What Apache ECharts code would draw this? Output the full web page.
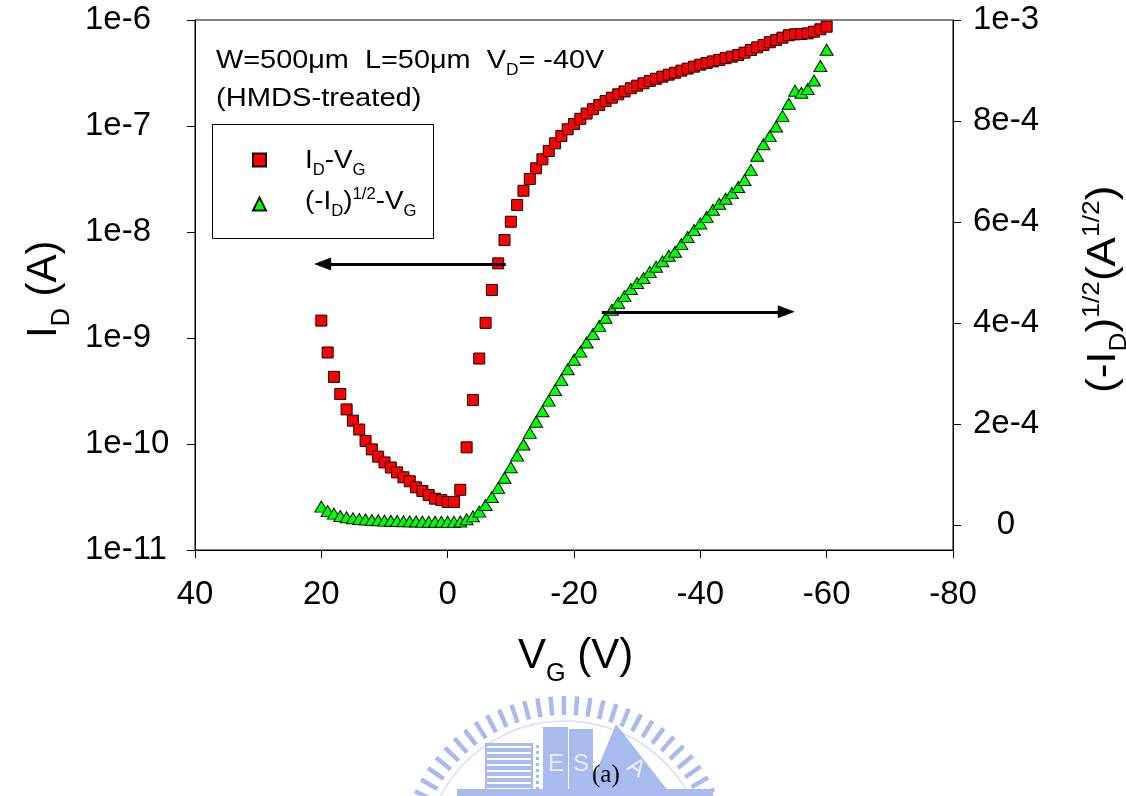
<!DOCTYPE html>
<html>
<head>
<meta charset="utf-8">
<script src="https://cdn.jsdelivr.net/npm/echarts@6/dist/echarts.min.js"></script>
<style>
  html, body { margin: 0; padding: 0; background: #fff; }
  #chart { width: 1126px; height: 796px; }
</style>
</head>
<body>
<div id="chart"></div>
<script>
// Gate voltage sweep (V)
const vgValues = [
  20, 19, 18, 17, 16, 15, 14, 13, 12, 11, 10, 9, 8, 7, 6, 5, 4, 3, 2, 1, 0,
  -1, -2, -3, -4, -5, -6, -7, -8, -9, -10, -11, -12, -13, -14, -15, -16, -17, -18, -19, -20,
  -21, -22, -23, -24, -25, -26, -27, -28, -29, -30, -31, -32, -33, -34, -35, -36, -37, -38, -39, -40,
  -41, -42, -43, -44, -45, -46, -47, -48, -49, -50, -51, -52, -53, -54, -55, -56, -57, -58, -59, -60
];

// Drain current I_D (A), log scale
const drainCurrent = [
  1.46e-9, 7.3e-10, 4.3e-10, 2.96e-10, 2.12e-10, 1.66e-10, 1.37e-10, 1.07e-10, 8.9e-11, 7.6e-11, 6.7e-11,
  6.0e-11, 5.4e-11, 4.85e-11, 4.45e-11, 3.9e-11, 3.6e-11, 3.3e-11, 3.05e-11, 2.96e-11, 2.84e-11,
  2.84e-11, 3.7e-11, 9.3e-11, 2.6e-10, 6.4e-10, 1.39e-9, 2.84e-9, 5.06e-9, 8.4e-9, 1.25e-8,
  1.8e-8, 2.45e-8, 3.16e-8, 3.99e-8, 4.85e-8, 5.81e-8, 6.87e-8, 8.05e-8, 9.31e-8, 1.045e-7,
  1.17e-7, 1.31e-7, 1.44e-7, 1.58e-7, 1.72e-7, 1.85e-7, 1.99e-7, 2.12e-7, 2.27e-7, 2.40e-7,
  2.53e-7, 2.66e-7, 2.79e-7, 2.92e-7, 3.05e-7, 3.18e-7, 3.33e-7, 3.48e-7, 3.63e-7, 3.79e-7,
  3.93e-7, 4.07e-7, 4.20e-7, 4.36e-7, 4.51e-7, 4.68e-7, 4.92e-7, 5.21e-7, 5.52e-7, 5.81e-7,
  6.17e-7, 6.47e-7, 6.81e-7, 7.18e-7, 7.33e-7, 7.38e-7, 7.48e-7, 7.76e-7, 8.17e-7, 8.65e-7
];

// Square root of drain current (A^1/2), linear scale
const sqrtCurrent = [
  3.6e-5, 2.7e-5, 2.2e-5, 1.75e-5, 1.5e-5, 1.3e-5, 1.15e-5, 1.05e-5, 9.5e-6, 8.8e-6, 8.2e-6,
  7.8e-6, 7.4e-6, 7.0e-6, 6.7e-6, 6.4e-6, 6.2e-6, 6.0e-6, 5.9e-6, 5.8e-6, 5.7e-6,
  5.7e-6, 6.5e-6, 1.1e-5, 1.7e-5, 2.6e-5, 3.9e-5, 5.5e-5, 7.3e-5, 9.3e-5, 1.14e-4,
  1.37e-4, 1.59e-4, 1.82e-4, 2.04e-4, 2.25e-4, 2.46e-4, 2.67e-4, 2.87e-4, 3.08e-4, 3.27e-4,
  3.43e-4, 3.61e-4, 3.78e-4, 3.94e-4, 4.10e-4, 4.26e-4, 4.40e-4, 4.53e-4, 4.67e-4, 4.79e-4,
  4.89e-4, 5.01e-4, 5.11e-4, 5.22e-4, 5.33e-4, 5.41e-4, 5.56e-4, 5.70e-4, 5.84e-4, 5.97e-4,
  6.10e-4, 6.24e-4, 6.36e-4, 6.46e-4, 6.57e-4, 6.69e-4, 6.83e-4, 7.03e-4, 7.31e-4, 7.54e-4,
  7.70e-4, 7.89e-4, 8.10e-4, 8.34e-4, 8.60e-4, 8.56e-4, 8.63e-4, 8.80e-4, 9.09e-4, 9.41e-4
];

// Axis ranges and tick labels
const xTicks = [40, 20, 0, -20, -40, -60, -80];
const leftTickLabels = ['1e-11', '1e-10', '1e-9', '1e-8', '1e-7', '1e-6'];
const rightTickValues = [0, 2e-4, 4e-4, 6e-4, 8e-4, 1e-3];
const rightTickLabels = ['0', '2e-4', '4e-4', '6e-4', '8e-4', '1e-3'];

// Direction arrows: [x, y] endpoints in data units
const leftArrow = [[-9.2, 5e-9], [19.8, 5e-9]];
const rightArrow = [[-24.4, 4.22e-4], [-53.6, 4.22e-4]];

const FONT = '"Liberation Sans", Arial, sans-serif';

const measureCtx = document.createElement('canvas').getContext('2d');
function textWidth(str, size, family) {
  measureCtx.font = size + 'px ' + family;
  return measureCtx.measureText(str).width;
}

// Builds a run of text with sub/superscripts starting at a baseline point.
function scriptText(parts, x, y, size, rotation, scaleX) {
  const family = FONT;
  const children = [];
  let cx = 0;
  parts.forEach(function (p) {
    const kind = p[1] || 'n';
    const fs = kind === 'n' ? size : size * 0.6;
    let dy = 0;
    if (kind === 'sub') dy = size * 0.26;
    if (kind === 'sup') dy = -size * 0.42;
    children.push({
      type: 'text',
      x: cx,
      y: dy - fs * 0.36,
      style: {
        text: p[0],
        font: fs + 'px ' + family,
        fill: '#000',
        align: 'left',
        verticalAlign: 'middle'
      }
    });
    cx += textWidth(p[0], fs, family);
  });
  return {
    type: 'group', x: x, y: y, rotation: rotation || 0,
    scaleX: scaleX || 1, scaleY: 1,
    children: children, silent: true, z: 10
  };
}

// Watermark emblem below the plot
function emblem() {
  const col = '#a9bbee';
  const els = [];
  const cx = 565, cy = 862;
  for (let a = 196; a <= 344; a += 4.6) {
    const t = a * Math.PI / 180;
    els.push({
      type: 'line',
      shape: {
        x1: cx + 147 * Math.cos(t), y1: cy + 147 * Math.sin(t),
        x2: cx + 166 * Math.cos(t), y2: cy + 166 * Math.sin(t)
      },
      style: { stroke: col, lineWidth: 4.5 }
    });
  }
  els.push({ type: 'arc', shape: { cx: cx, cy: cy, r: 141, startAngle: Math.PI * 1.08, endAngle: Math.PI * 1.92 },
    style: { stroke: '#d3ddf6', lineWidth: 1.5, fill: null } });
  els.push({ type: 'rect', shape: { x: 485, y: 743, width: 48, height: 53 }, style: { fill: col } });
  for (let yy = 747; yy < 796; yy += 6) {
    els.push({ type: 'line', shape: { x1: 487, y1: yy, x2: 531, y2: yy }, style: { stroke: '#fff', lineWidth: 2 } });
  }
  for (let yy = 745; yy < 796; yy += 6) {
    els.push({ type: 'rect', shape: { x: 536, y: yy, width: 3, height: 3 }, style: { fill: col } });
  }
  els.push({ type: 'rect', shape: { x: 543, y: 727, width: 25, height: 69 }, style: { fill: col } });
  els.push({ type: 'rect', shape: { x: 569, y: 729, width: 24, height: 67 }, style: { fill: col } });
  els.push({ type: 'polygon', shape: { points: [[586, 796], [616, 724], [672, 796]] }, style: { fill: col } });
  els.push({ type: 'rect', shape: { x: 457, y: 789, width: 256, height: 7 }, style: { fill: col } });
  els.push({ type: 'text', x: 556, y: 764, style: { text: 'E', font: '24px ' + FONT, fill: '#e6ecfb', align: 'center', verticalAlign: 'middle' } });
  els.push({ type: 'text', x: 581, y: 764, style: { text: 'S', font: '24px ' + FONT, fill: '#e6ecfb', align: 'center', verticalAlign: 'middle' } });
  els.push({ type: 'text', x: 636, y: 768, rotation: -0.6, style: { text: 'A', font: '24px ' + FONT, fill: '#e6ecfb', align: 'center', verticalAlign: 'middle' } });
  return { type: 'group', silent: true, children: els };
}

const chart = echarts.init(document.getElementById('chart'), null, { renderer: 'canvas' });

const option = {
  animation: false,
  backgroundColor: '#fff',
  grid: {
    left: 195, top: 20, width: 758, height: 530,
    show: true, borderColor: '#000', borderWidth: 1, backgroundColor: 'transparent'
  },
  xAxis: {
    type: 'value',
    inverse: true,
    min: -80, max: 40, interval: 20,
    axisLine: { show: true, onZero: false, lineStyle: { color: '#000', width: 1 } },
    axisTick: { show: true, inside: false, length: 8, lineStyle: { color: '#000' } },
    axisLabel: {
      color: '#000', fontSize: 33, fontFamily: FONT, margin: 28,
      formatter: function (v) { return xTicks.indexOf(v) >= 0 ? String(v) : ''; }
    },
    splitLine: { show: false }
  },
  yAxis: [
    {
      type: 'log',
      logBase: 10,
      min: 1e-11, max: 1e-6,
      position: 'left',
      axisLine: { show: true, onZero: false, lineStyle: { color: '#000', width: 1 } },
      axisTick: { show: true, inside: false, length: 8, lineStyle: { color: '#000' } },
      minorTick: { show: false },
      axisLabel: {
        color: '#000', fontSize: 33, fontFamily: FONT, margin: 110, align: 'left',
        formatter: function (v) {
          const k = Math.round(Math.log10(v)) + 11;
          return leftTickLabels[k] || '';
        }
      },
      splitLine: { show: false }
    },
    {
      type: 'value',
      min: -5e-5, max: 1e-3,
      position: 'right',
      axisLine: { show: true, onZero: false, lineStyle: { color: '#000', width: 1 } },
      axisTick: { show: true, inside: false, length: 8, lineStyle: { color: '#000' }, customValues: rightTickValues },
      axisLabel: {
        color: '#000', fontSize: 33, fontFamily: FONT, margin: 53, align: 'center',
        customValues: rightTickValues,
        formatter: function (v) {
          for (let i = 0; i < rightTickValues.length; i++) {
            if (Math.abs(rightTickValues[i] - v) < 1e-9) return rightTickLabels[i];
          }
          return '';
        }
      },
      splitLine: { show: false }
    }
  ],
  legend: {
    orient: 'vertical',
    left: 252,
    top: 152.5,
    padding: 0,
    itemGap: 29,
    itemWidth: 13,
    itemHeight: 13,
    selectedMode: false,
    data: ['idvg', 'sqrtvg'],
    textStyle: { fontSize: 10, lineHeight: 13, color: '#000' },
    formatter: function () { return ''; }
  },
  series: [
    {
      name: 'idvg',
      type: 'scatter',
      xAxisIndex: 0,
      yAxisIndex: 0,
      symbol: 'rect',
      symbolSize: 11,
      itemStyle: { color: '#ff0000', borderColor: '#1a0000', borderWidth: 1, opacity: 1 },
      data: vgValues.map(function (v, i) { return [v, drainCurrent[i]]; }),
      markLine: {
        silent: true,
        symbol: ['none', 'triangle'],
        symbolSize: [13, 17],
        label: { show: false },
        lineStyle: { color: '#000', width: 3, type: 'solid' },
        emphasis: { disabled: true },
        data: [[{ coord: leftArrow[0] }, { coord: leftArrow[1] }]]
      },
      z: 3
    },
    {
      name: 'sqrtvg',
      type: 'scatter',
      xAxisIndex: 0,
      yAxisIndex: 1,
      symbol: 'triangle',
      symbolSize: [13, 11],
      itemStyle: { color: '#00ff00', borderColor: '#001a00', borderWidth: 1, opacity: 1 },
      data: vgValues.map(function (v, i) { return [v, sqrtCurrent[i]]; }),
      markLine: {
        silent: true,
        symbol: ['none', 'triangle'],
        symbolSize: [13, 17],
        label: { show: false },
        lineStyle: { color: '#000', width: 3, type: 'solid' },
        emphasis: { disabled: true },
        data: [[{ coord: rightArrow[0] }, { coord: rightArrow[1] }]]
      },
      z: 4
    }
  ],
  graphic: [
    emblem(),
    {
      type: 'rect',
      shape: { x: 212.5, y: 124.5, width: 221, height: 114 },
      style: { fill: null, stroke: '#000', lineWidth: 1 },
      silent: true, z: 1
    },
    scriptText([['W=500\u03bcm  L=50\u03bcm  V'], ['D', 'sub'], ['= -40V']], 216, 70, 26, 0, 1.11),
    scriptText([['(HMDS-treated)']], 216, 108.5, 26, 0, 1.12),
    scriptText([['I'], ['D', 'sub'], ['-V'], ['G', 'sub']], 305, 170, 26, 0, 1.07),
    scriptText([['(-I'], ['D', 'sub'], [')'], ['1/2', 'sup'], ['-V'], ['G', 'sub']], 305, 211, 26, 0, 1.07),
    scriptText([['I'], ['D', 'sub'], [' (A)']], 60, 338, 42, Math.PI / 2),
    scriptText([['V'], ['G', 'sub'], [' (V)']], 518, 672, 42),
    scriptText([['(-I'], ['D', 'sub'], [')'], ['1/2', 'sup'], ['(A'], ['1/2', 'sup'], [')']], 1118, 393, 40, Math.PI / 2, 1.1),
    {
      type: 'text', x: 592, y: 788,
      style: { text: '(a)', font: '25px "Liberation Serif", "Times New Roman", serif', fill: '#000', align: 'left', verticalAlign: 'bottom' },
      silent: true, z: 10
    }
  ]
};

chart.setOption(option);
</script>
</body>
</html>
